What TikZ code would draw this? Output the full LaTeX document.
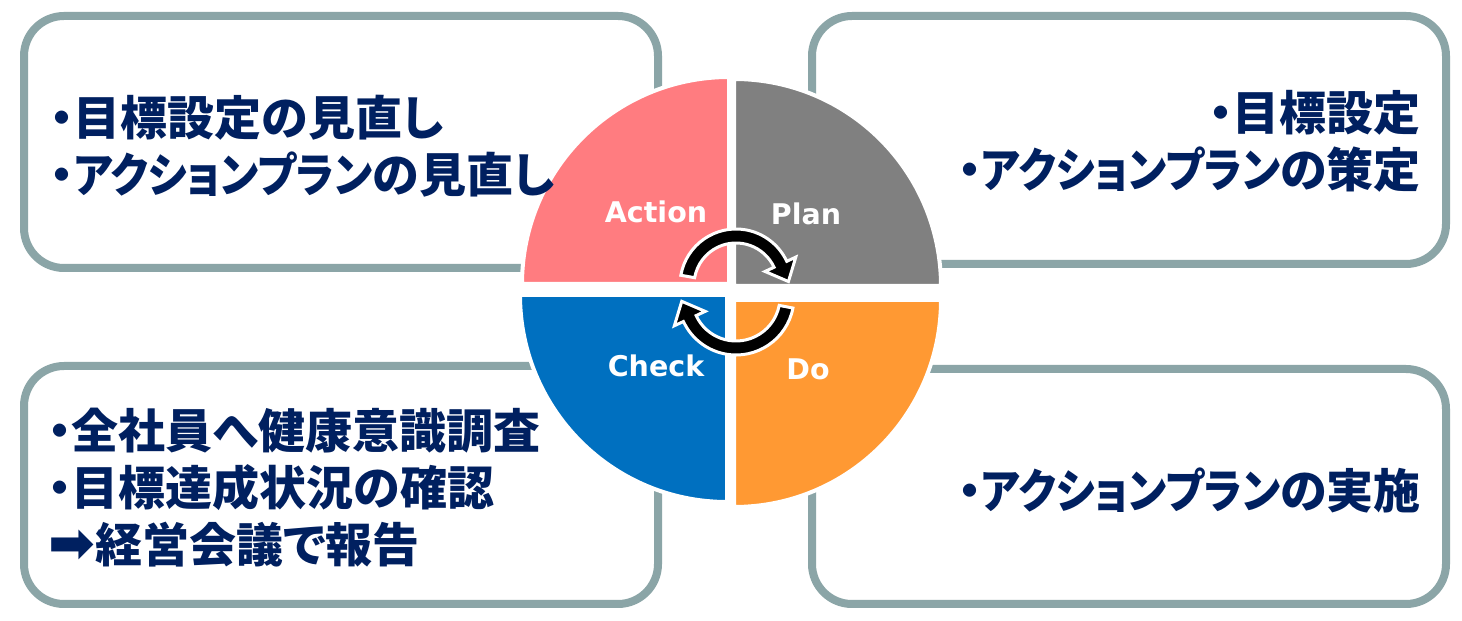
\documentclass[tikz,border=0pt]{standalone}
\usepackage{fontspec}
\newfontfamily\jp{Noto Sans CJK JP}[RawFeature={+palt}]
\newfontfamily\jpk{Noto Sans CJK JP}[RawFeature={+palt}, FakeStretch=0.89]
\newfontfamily\lat{DejaVu Sans}
\newfontfamily\symf{DejaVu Sans}
\usetikzlibrary{calc}
\definecolor{boxline}{HTML}{8BA5A7}
\definecolor{navy}{HTML}{002060}
\definecolor{pinkq}{HTML}{FF7C80}
\definecolor{grayq}{HTML}{808080}
\definecolor{blueq}{HTML}{0070C0}
\definecolor{orangeq}{HTML}{FF9933}
\newcommand{\kana}[1]{{\jpk\bfseries #1}}
\begin{document}
\begin{tikzpicture}[x=1pt,y=1pt,
  infobox/.style={draw=boxline, line width=8pt, rounded corners=40pt, fill=white, inner sep=0pt, outer sep=0pt},
  infotext/.style={font=\jp\bfseries\fontsize{47}{57}\selectfont, text=navy, inner sep=0pt},
  quad/.style={draw=white, line width=4pt, line join=miter},
  qlabel/.style={font=\lat\bfseries\fontsize{28.5}{36}\selectfont, text=white, inner sep=0pt},
  cyc/.style={fill=black, draw=white, line width=3pt, line join=miter}]
\fill[white] (0,0) rectangle (1462,621);
\useasboundingbox (0,0) rectangle (1462,621);
% boxes
\node[infobox, minimum width=634pt, minimum height=252pt] (tl) at (341,479) {};
\node[infobox, minimum width=634pt, minimum height=248pt] (tr) at (1129,481) {};
\node[infobox, minimum width=634pt, minimum height=238pt] (bl) at (341,136) {};
\node[infobox, minimum width=634pt, minimum height=235pt] (br) at (1129,134.5) {};
% quadrants
\filldraw[quad, fill=pinkq] (729,337) -- ++(180:207) arc[start angle=180, end angle=90, radius=207] -- cycle;
\filldraw[quad, fill=grayq] (734,335) -- ++(90:207) arc[start angle=90, end angle=0, radius=207] -- cycle;
\filldraw[quad, fill=blueq] (727,326) -- ++(270:207) arc[start angle=270, end angle=180, radius=207] -- cycle;
\filldraw[quad, fill=orangeq] (734,321) -- ++(0:207) arc[start angle=0, end angle=-90, radius=207] -- cycle;
% cycle arrows
\coordinate (c1) at (736,336);
\coordinate (c2) at (736,324);
\filldraw[cyc] ($(c1)+(170:56)$) arc[start angle=170, end angle=25, radius=56]
  -- ($(c1)+(25:66)$) -- ($(c1)+(25:49)+(-65:19)$) -- ($(c1)+(25:32)$)
  -- ($(c1)+(25:42)$) arc[start angle=25, end angle=170, radius=42] -- cycle;
\filldraw[cyc] ($(c2)+(-11:58)$) arc[start angle=-11, end angle=-155, radius=58]
  -- ($(c2)+(-155:68)$) -- ($(c2)+(-155:51)+(-245:19)$) -- ($(c2)+(-155:34)$)
  -- ($(c2)+(-155:44)$) arc[start angle=-155, end angle=-11, radius=44] -- cycle;
% quadrant labels
\node[qlabel] (act) at (656,409) {Action};
\node[qlabel] (pln) at (806,407) {Plan};
\node[qlabel] (chk) at (656,255) {Check};
\node[qlabel] (dol) at (808,252) {Do};
% texts
\node[infotext, anchor=west, align=left] (tltext) at (50,475) {・目標設定の見直し\\・\kana{アクションプラン}の見直し};
\node[infotext, anchor=east, align=right] (trtext) at (1421,479.5) {・目標設定\\・\kana{アクションプラン}の策定};
\node[infotext, anchor=west, align=left] (bltext) at (48,133) {・全社員へ健康意識調査\\・目標達成状況の確認\\{\symf\fontsize{56}{57}\selectfont ➡}経営会議で報告};
\node[infotext, anchor=east] (brtext) at (1421,131) {・\kana{アクションプラン}の実施};
\end{tikzpicture}
\end{document}
